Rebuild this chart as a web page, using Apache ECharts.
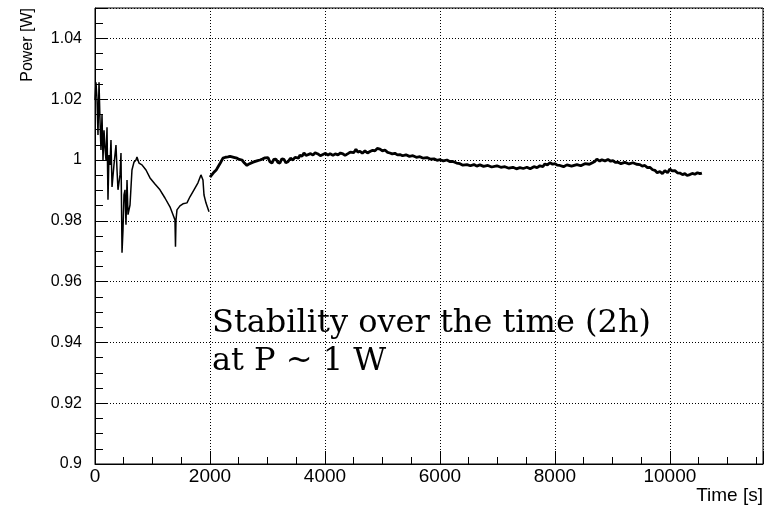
<!DOCTYPE html>
<html>
<head>
<meta charset="utf-8">
<script src="https://cdn.jsdelivr.net/npm/echarts@6/dist/echarts.min.js"></script>
<style>html,body{margin:0;padding:0;background:#fff;}#c{width:765px;height:508px;}</style>
</head>
<body>
<div id="c"></div>
<script>
// Early, transient part (0 - 2000 s)
const earlyTime = [0,17,35,52,70,87,104,122,139,157,174,191,209,226,243,261,278,296,330,365,383,400,435,452,470,487,504,522,539,557,574,609,643,678,713,730,765,817,887,957,1043,1130,1217,1304,1357,1391,1400,1409,1426,1478,1530,1600,1652,1722,1791,1843,1878,1896,1930,1983];
const earlyPower = [1.0197,1.0256,1.0200,1.0082,1.0256,1.0131,1.0033,1.0148,1.0000,1.0098,1.0040,1.0000,1.0108,0.9869,1.0016,0.9984,1.0066,0.9911,0.9984,1.0049,0.9967,0.9902,0.9951,1.0023,0.9695,0.9770,0.9885,0.9902,0.9787,0.9934,0.9820,0.9852,0.9967,0.9993,1.0000,1.0010,0.9990,0.9984,0.9967,0.9941,0.9921,0.9902,0.9875,0.9846,0.9820,0.9803,0.9715,0.9803,0.9836,0.9849,0.9856,0.9859,0.9879,0.9902,0.9925,0.9951,0.9934,0.9885,0.9859,0.9830];
// Stable part (2000 - 10557 s)
const lateTime = [2000,2035,2070,2105,2139,2180,2226,2270,2313,2350,2383,2430,2470,2510,2557,2600,2643,2680,2713,2750,2783,2830,2870,2910,2957,2990,3009,3040,3078,3110,3148,3180,3217,3250,3287,3320,3357,3400,3443,3480,3513,3540,3565,3600,3635,3670,3704,3750,3791,3830,3878,3920,3965,4010,4052,4090,4139,4180,4226,4270,4313,4350,4400,4440,4470,4500,4539,4570,4609,4650,4696,4740,4783,4830,4870,4910,4957,5000,5043,5090,5130,5170,5217,5260,5304,5350,5409,5470,5530,5590,5652,5710,5774,5830,5896,5950,6000,6060,6122,6170,6226,6290,6348,6400,6470,6530,6591,6640,6696,6760,6835,6900,6991,7060,7130,7200,7270,7330,7391,7450,7513,7570,7635,7690,7739,7790,7826,7870,7913,7960,8000,8040,8087,8150,8209,8290,8383,8450,8522,8600,8661,8700,8730,8780,8817,8870,8922,8970,9009,9050,9096,9150,9217,9290,9357,9420,9478,9520,9565,9610,9652,9700,9739,9780,9826,9870,9913,9960,10000,10040,10087,10130,10174,10220,10261,10300,10348,10390,10435,10480,10522,10557];
const latePower = [0.9944,0.9952,0.9960,0.9966,0.9977,0.9990,1.0006,1.0009,1.0010,1.0012,1.0010,1.0008,1.0006,1.0002,1.0000,0.9990,0.9982,0.9987,0.9990,0.9993,0.9994,0.9998,1.0000,1.0003,1.0007,1.0013,1.0008,0.9995,0.9990,1.0002,1.0003,0.9992,0.9990,1.0004,1.0002,0.9991,0.9994,1.0006,1.0000,1.0009,1.0013,1.0006,1.0016,1.0012,1.0023,1.0015,1.0018,1.0021,1.0016,1.0024,1.0020,1.0014,1.0018,1.0022,1.0016,1.0021,1.0015,1.0020,1.0017,1.0023,1.0020,1.0015,1.0021,1.0026,1.0030,1.0024,1.0035,1.0026,1.0029,1.0022,1.0030,1.0023,1.0028,1.0032,1.0030,1.0038,1.0036,1.0030,1.0033,1.0025,1.0023,1.0020,1.0022,1.0017,1.0018,1.0014,1.0017,1.0012,1.0014,1.0009,1.0011,1.0006,1.0008,1.0003,1.0004,0.9999,1.0001,0.9997,1.0000,0.9995,0.9995,0.9990,0.9988,0.9983,0.9985,0.9981,0.9985,0.9980,0.9984,0.9979,0.9982,0.9977,0.9981,0.9976,0.9978,0.9973,0.9976,0.9971,0.9975,0.9972,0.9976,0.9971,0.9978,0.9975,0.9981,0.9978,0.9987,0.9984,0.9991,0.9986,0.9988,0.9983,0.9982,0.9978,0.9984,0.9980,0.9985,0.9981,0.9988,0.9986,0.9992,0.9996,1.0003,0.9996,1.0001,0.9997,1.0002,0.9996,0.9998,0.9992,0.9993,0.9988,0.9992,0.9987,0.9991,0.9986,0.9985,0.9980,0.9982,0.9975,0.9976,0.9968,0.9966,0.9958,0.9962,0.9955,0.9965,0.9958,0.9970,0.9964,0.9965,0.9958,0.9957,0.9952,0.9955,0.9949,0.9952,0.9956,0.9953,0.9958,0.9955,0.9957];

const xMin = 0, xMax = 11620, xStep = 2000;
const yMin = 0.90, yMax = 1.05, yStep = 0.02;
const xTitle = 'Time [s]';
const yTitle = 'Power [W]';
const note1 = 'Stability over the time (2h)';
const note2 = 'at P ~ 1 W';

const zip = (a, b) => a.map((v, i) => [v, b[i]]);

const chart = echarts.init(document.getElementById('c'), null, {renderer: 'canvas'});
const sans = '"Liberation Sans", Arial, sans-serif';
chart.setOption({
  animation: false,
  backgroundColor: '#fff',
  grid: {left: 95, top: 8, right: 2, bottom: 44, show: true, borderColor: '#000', borderWidth: 1, backgroundColor: 'transparent'},
  xAxis: {
    type: 'value', min: xMin, max: xMax, interval: xStep,
    axisLine: {show: true, lineStyle: {color: '#000', width: 1}},
    axisTick: {show: true, inside: true, length: 13, lineStyle: {color: '#000'}},
    minorTick: {show: true, splitNumber: 4, length: 7, lineStyle: {color: '#000'}},
    splitLine: {show: true, lineStyle: {color: '#000', type: [1, 2], width: 1}},
    axisLabel: {color: '#000', fontFamily: sans, fontSize: 19, margin: 3, showMaxLabel: false,
      formatter: v => String(Math.round(v))}
  },
  yAxis: {
    type: 'value', min: yMin, max: yMax, interval: yStep,
    axisLine: {show: true, lineStyle: {color: '#000', width: 1}},
    axisTick: {show: true, inside: true, length: 13, lineStyle: {color: '#000'}},
    minorTick: {show: true, splitNumber: 4, length: 8, lineStyle: {color: '#000'}},
    splitLine: {show: true, lineStyle: {color: '#000', type: [1, 2], width: 1}},
    axisLabel: {color: '#000', fontFamily: sans, fontSize: 16, margin: 13, showMaxLabel: false,
      formatter: v => String(Math.round(v * 100) / 100)}
  },
  graphic: [
    {type: 'text', x: 28, y: 8, rotation: Math.PI / 2, z: 10,
      style: {text: yTitle, fontFamily: sans, fontSize: 16, fill: '#000', align: 'right', verticalAlign: 'middle', textAlign: 'right', textVerticalAlign: 'middle'}},
    {type: 'text', x: 763, y: 486, z: 10,
      style: {text: xTitle, fontFamily: sans, fontSize: 19, fill: '#000', align: 'right', verticalAlign: 'top', textAlign: 'right', textVerticalAlign: 'top'}},
    {type: 'text', x: 212, y: 324, z: 10,
      style: {text: note1, fontFamily: '"DejaVu Serif", serif', fontSize: 32, fill: '#000', align: 'left', verticalAlign: 'middle', textAlign: 'left', textVerticalAlign: 'middle'}},
    {type: 'text', x: 212, y: 362, z: 10,
      style: {text: note2, fontFamily: '"DejaVu Serif", serif', fontSize: 32, fill: '#000', align: 'left', verticalAlign: 'middle', textAlign: 'left', textVerticalAlign: 'middle'}}
  ],
  series: [
    {type: 'line', data: zip(earlyTime, earlyPower), showSymbol: false, symbol: 'none',
      lineStyle: {color: '#000', width: 1.5}, z: 5},
    {type: 'line', data: zip(lateTime, latePower), showSymbol: false, symbol: 'none',
      lineStyle: {color: '#000', width: 2.8}, z: 5}
  ]
});
</script>
</body>
</html>
